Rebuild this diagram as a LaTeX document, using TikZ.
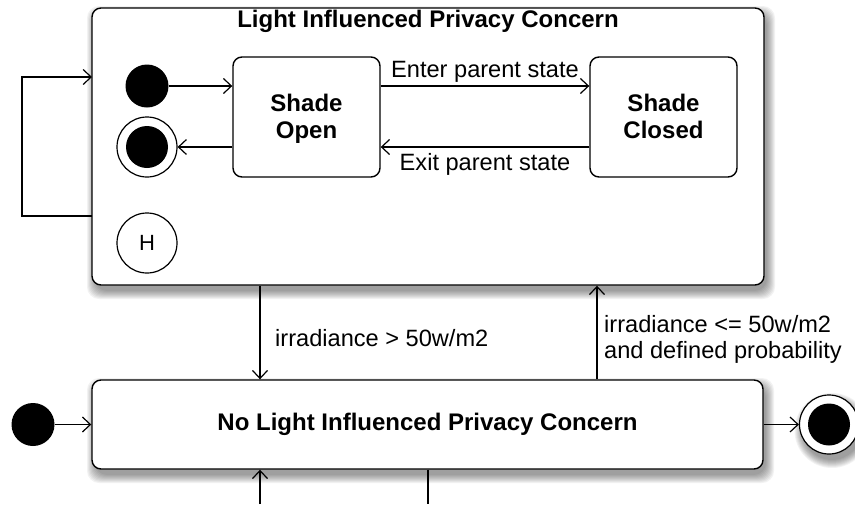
\documentclass[tikz,border=0pt]{standalone}
\usepackage{fontspec}
\setmainfont{Liberation Sans}
\usetikzlibrary{arrows.meta,calc}
\begin{document}
\begin{tikzpicture}[x=1pt,y=-1pt,
  statebox/.style={draw, line width=1.4pt, rounded corners=9pt, fill=white, inner sep=0pt, align=center,
    font=\bfseries\fontsize{24}{27}\selectfont},
  boxtext/.style={inner sep=0pt, align=center, font=\bfseries\fontsize{24}{27}\selectfont},
  initdot/.style={circle, fill=black, minimum size=43pt, inner sep=0pt},
  finring/.style={circle, draw, line width=1.2pt, fill=white, minimum size=60pt, inner sep=0pt},
  histnode/.style={circle, draw, line width=1.2pt, fill=white, minimum size=60pt, inner sep=0pt,
    font=\fontsize{22}{26}\selectfont},
  tr/.style={line width=1.3pt, -{Straight Barb[length=8pt,width=15pt,line width=1.2pt]}},
  plain/.style={line width=1.3pt},
  lbl/.style={font=\fontsize{23.6}{26}\selectfont, inner sep=0pt},
  ttl/.style={font=\bfseries\fontsize{24}{27}\selectfont, inner sep=0pt}
]
\useasboundingbox (0,0) rectangle (855,504);
% blurred shadows
\foreach \k in {1,...,9} {
  \fill[black, opacity=0.05, rounded corners=12pt] (92+3-9+\k, 8+6-9+\k) rectangle (764+3+9-\k, 285+6+9-\k);
  \fill[black, opacity=0.05, rounded corners=12pt] (92+3-9+\k, 380+6-9+\k) rectangle (763+3+9-\k, 469+6+9-\k);
  \fill[black, opacity=0.05] (829+3, 424.5+6) circle[radius=29.5+9-\k];
}
% main states
\node[statebox, minimum width=672pt, minimum height=277pt] (top) at (428,146.5) {};
\node[ttl] (title) at (428,21.5) {Light Influenced Privacy Concern};
\node[statebox, minimum width=671pt, minimum height=89pt] (bottom) at (427.5,424.5) {No Light Influenced Privacy Concern};
% substates
\node[statebox, minimum width=147pt, minimum height=120pt] (so) at (306.5,117) {};
\node[boxtext] (sotext) at ([yshift=-3pt]so.center) {Shade\\Open\strut};
\node[statebox, minimum width=147pt, minimum height=120pt] (sc) at (663.5,117) {};
\node[boxtext] (sctext) at ([yshift=-3pt]sc.center) {Shade\\Closed\strut};
% pseudo states
\node[initdot] (init1) at (147,86) {};
\node[finring] (fin1) at (147,147) {};
\fill (fin1.center) circle[radius=21pt];
\node[histnode] (hist) at (147,243) {H};
\node[initdot] (init2) at (33,424.5) {};
\node[finring, minimum size=59pt] (fin2) at (829,424.5) {};
\fill (fin2.center) circle[radius=21pt];
% coordinates for free ends
\coordinate (loopout) at (92,216);
\coordinate (loopin) at (92,77);
\coordinate (downx) at (260,0);
\coordinate (upx) at (597,0);
\coordinate (botA) at (260,504);
\coordinate (botB) at (428,504);
% transitions
\draw[tr] (init1) -- (init1 -| so.west);
\draw[tr] (so.west |- fin1) -- (fin1.east);
\draw[tr] (so.east |- init1) -- node[lbl, above=3pt] (enterlbl) {Enter parent state} (sc.west |- init1);
\draw[tr] (sc.west |- fin1) -- node[lbl, below=6pt] (exitlbl) {Exit parent state} (so.east |- fin1);
\draw[tr] (loopout) -- ++(-70,0) |- (loopin);
\draw[tr] (top.south -| downx) -- (bottom.north -| downx);
\node[lbl, anchor=west] (lbldown) at (275,338) {irradiance > 50w/m2};
\draw[tr] (bottom.north -| upx) -- (top.south -| upx);
\node[lbl, anchor=west, align=left] (lblup) at (604,339) {irradiance <= 50w/m2\\and defined probability};
\draw[tr] (init2) -- (bottom.west |- init2);
\draw[tr] (bottom.east |- fin2) -- (fin2.west);
\draw[tr] (botA) -- (bottom.south -| botA);
\draw[plain] (bottom.south -| botB) -- (botB);
\end{tikzpicture}
\end{document}
